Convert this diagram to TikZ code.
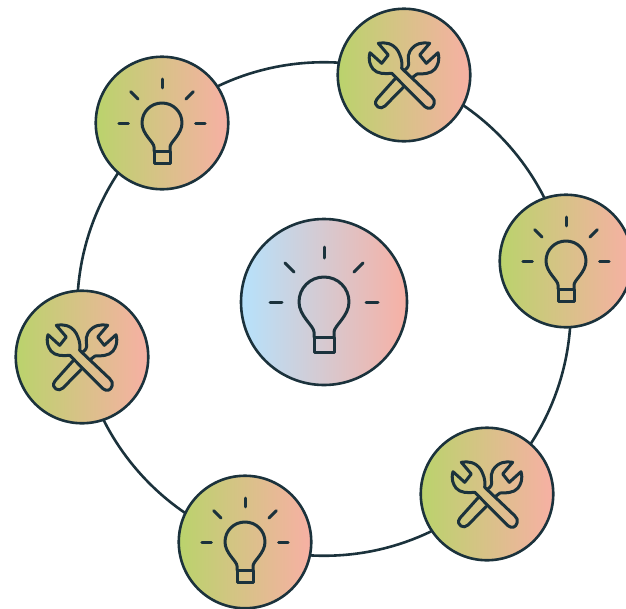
\documentclass[tikz,border=0pt]{standalone}
\definecolor{inkline}{RGB}{27,50,60}
\definecolor{leafgreen}{RGB}{186,211,108}
\definecolor{skyblue}{RGB}{182,226,252}
\definecolor{softpink}{RGB}{247,176,164}
\tikzset{
	bulb/.pic={
		\draw[icon] (-10,35) -- (-10,30) .. controls (-10,24) and (-25,14) .. (-25,0)
			.. controls (-25,-14) and (-14,-25) .. (0,-25)
			.. controls (14,-25) and (25,-14) .. (25,0)
			.. controls (25,14) and (10,24) .. (10,30) -- (10,35);
		\draw[icon] (-10,35) rectangle (10,50);
		\draw[icon] (0,-55) -- (0,-44);
		\draw[icon] (-54,0) -- (-42,0);
		\draw[icon] (54,0) -- (42,0);
		\draw[icon] (-39,-39) -- (-30,-30);
		\draw[icon] (39,-39) -- (30,-30);
	},
	wrenches/.pic={
		% the one lying on top
		\draw[icon] (-2.3,-6.7) .. controls (-1,-14) and (-4,-20) .. (-6,-24)
			.. controls (-11,-32) and (-19,-33) .. (-25.7,-31.7)
			-- (-15.7,-20) -- (-22.3,-11.7) -- (-34,-22.3)
			.. controls (-36,-15) and (-34,-10) .. (-31,-6)
			.. controls (-27,-1) and (-19,-1) .. (-12.3,-1.7)
			-- (21,31.7) .. controls (25,35) and (29,33) .. (30,29)
			.. controls (31,26) and (30,24) .. (27.7,21.7) -- cycle;
		% the one behind it
		\draw[icon] (0,-4.5) .. controls (4,-7) and (5,-9) .. (4.5,-13)
			.. controls (4,-18) and (4,-21) .. (6,-24)
			.. controls (11,-32) and (19,-33) .. (25.7,-31.7)
			-- (15.7,-20) -- (22.3,-11.7) -- (34,-22.3)
			.. controls (36,-15) and (34,-10) .. (31,-6)
			.. controls (27,-1) and (19,-1) .. (13,-1) -- (7.7,3);
		\draw[icon] (-8.5,3.3) -- (-27,24) .. controls (-30,28) and (-28,31) .. (-26,32)
			.. controls (-24,33.5) and (-21,33) .. (-19,31) -- (-0.7,12.3);
	},
}
\begin{document}
\begin{tikzpicture}[
	x=1pt, y=-1pt,
	icon/.style = {draw=inkline, line width=3pt, line join=round, line cap=round},
	ring/.style = {shape=circle, draw=inkline, line width=2.6pt, minimum size=493.5pt, inner sep=0pt},
	hub/.style = {shape=circle, draw=inkline, line width=2.6pt, minimum size=166pt, inner sep=0pt,
		left color=skyblue, right color=softpink},
	satellite/.style = {shape=circle, draw=inkline, line width=2.6pt, minimum size=132.5pt, inner sep=0pt,
		left color=leafgreen, right color=softpink},
	]
	\useasboundingbox (0,0) rectangle (626,608);

	\node[ring] (orbit) at (324,309) {};

	\node[hub] (idea) at (324,302) {};
	\node[satellite] (ideaA) at (162,123) {};
	\node[satellite] (toolsA) at (404,75) {};
	\node[satellite] (ideaB) at (566,261) {};
	\node[satellite] (toolsB) at (487,494) {};
	\node[satellite] (ideaC) at (245,542) {};
	\node[satellite] (toolsC) at (82,357) {};

	\pic at (idea) {bulb};
	\pic[scale=.8] at (ideaA) {bulb};
	\pic[scale=.8] at (ideaB) {bulb};
	\pic[scale=.8] at (ideaC) {bulb};
	\pic at (toolsA) {wrenches};
	\pic at (toolsB) {wrenches};
	\pic at (toolsC) {wrenches};
\end{tikzpicture}
\end{document}
